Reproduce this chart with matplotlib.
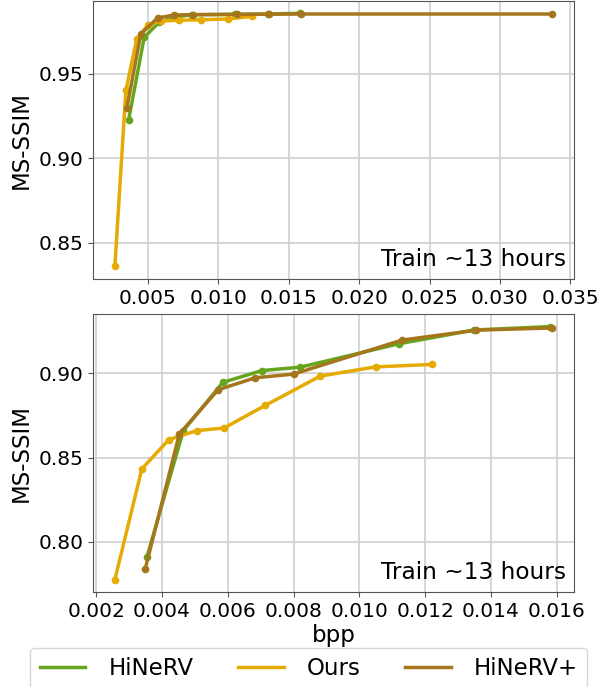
import matplotlib
matplotlib.use("Agg")
import matplotlib.pyplot as plt
from matplotlib.lines import Line2D

# --- data (bpp, MS-SSIM) -----------------------------------------------------
# top panel
TOP_HINERV_BPP  = [0.00363, 0.00474, 0.0058, 0.0070, 0.0082, 0.0112, 0.0135, 0.0158]
TOP_HINERV_SSIM = [0.9223, 0.9714, 0.9803, 0.9835, 0.9848, 0.9850, 0.9852, 0.9856]
TOP_OURS_BPP    = [0.00266, 0.00344, 0.00422, 0.0050, 0.0059, 0.0072, 0.0088, 0.0107, 0.0124]
TOP_OURS_SSIM   = [0.836, 0.940, 0.9707, 0.9785, 0.9810, 0.9815, 0.9818, 0.9823, 0.9838]
TOP_PLUS_BPP    = [0.00351, 0.0045, 0.00569, 0.00687, 0.0081, 0.0113, 0.0136, 0.0159, 0.0337]
TOP_PLUS_SSIM   = [0.9297, 0.9734, 0.9829, 0.9846, 0.9848, 0.9850, 0.9851, 0.9852, 0.9852]

# bottom panel
BOT_HINERV_BPP  = [0.00354, 0.00465, 0.00585, 0.00704, 0.0082, 0.0112, 0.0135, 0.0158]
BOT_HINERV_SSIM = [0.7907, 0.866, 0.8947, 0.9017, 0.9037, 0.9176, 0.9258, 0.9278]
BOT_OURS_BPP    = [0.00257, 0.00339, 0.00421, 0.00506, 0.00589, 0.00714, 0.00881, 0.0105, 0.0122]
BOT_OURS_SSIM   = [0.7776, 0.8433, 0.8607, 0.8660, 0.8676, 0.8810, 0.8984, 0.9039, 0.9053]
BOT_PLUS_BPP    = [0.00349, 0.00453, 0.00571, 0.00683, 0.0080, 0.0113, 0.01356, 0.01586]
BOT_PLUS_SSIM   = [0.7838, 0.8641, 0.8903, 0.8974, 0.8996, 0.9198, 0.9257, 0.9270]

LABELS = ["HiNeRV", "Ours", "HiNeRV+"]
COLORS = ["#66a61e", "#e6ab02", "#a6761d"]   # Dark2 green / yellow / brown
NOTE = "Train ~13 hours"

plt.rcParams["font.family"] = "DejaVu Sans"

fig = plt.figure(figsize=(6.08, 6.87), dpi=100)
ax_top = fig.add_axes([0.153, 0.594, 0.791, 0.405])
ax_bot = fig.add_axes([0.153, 0.138, 0.791, 0.405])

panels = [
    (ax_top, [(TOP_HINERV_BPP, TOP_HINERV_SSIM), (TOP_OURS_BPP, TOP_OURS_SSIM),
              (TOP_PLUS_BPP, TOP_PLUS_SSIM)]),
    (ax_bot, [(BOT_HINERV_BPP, BOT_HINERV_SSIM), (BOT_OURS_BPP, BOT_OURS_SSIM),
              (BOT_PLUS_BPP, BOT_PLUS_SSIM)]),
]

for ax, series in panels:
    for (x, y), lab, c in zip(series, LABELS, COLORS):
        ax.plot(x, y, "-o", color=c, lw=2.5, ms=4.5, label=lab)
    ax.grid(True, color="#d0d0d0", lw=1.2)
    ax.set_axisbelow(True)
    ax.tick_params(labelsize=14.5, color="#555555")
    for s in ax.spines.values():
        s.set_color("#555555")
    ax.set_ylabel("MS-SSIM", fontsize=16.5)
    ax.text(0.983, 0.03, NOTE, transform=ax.transAxes, ha="right", va="bottom",
            fontsize=16.7)

ax_top.set_yticks([0.85, 0.90, 0.95])
ax_bot.set_yticks([0.80, 0.85, 0.90])
ax_bot.set_xticks([0.002, 0.004, 0.006, 0.008, 0.010, 0.012, 0.014, 0.016])
ax_bot.set_xlabel("bpp", fontsize=16.5, labelpad=2)

# legend shows plain lines (no markers)
handles = [Line2D([], [], color=c, lw=2.5) for c in COLORS]
fig.legend(handles=handles, labels=LABELS, loc="upper center",
           bbox_to_anchor=(0.508, 0.057), borderaxespad=0, ncol=3,
           fontsize=16.5, handlelength=2.0, columnspacing=1.95,
           handletextpad=1.0, frameon=True, fancybox=True)

fig.savefig("out.png", dpi=100)
